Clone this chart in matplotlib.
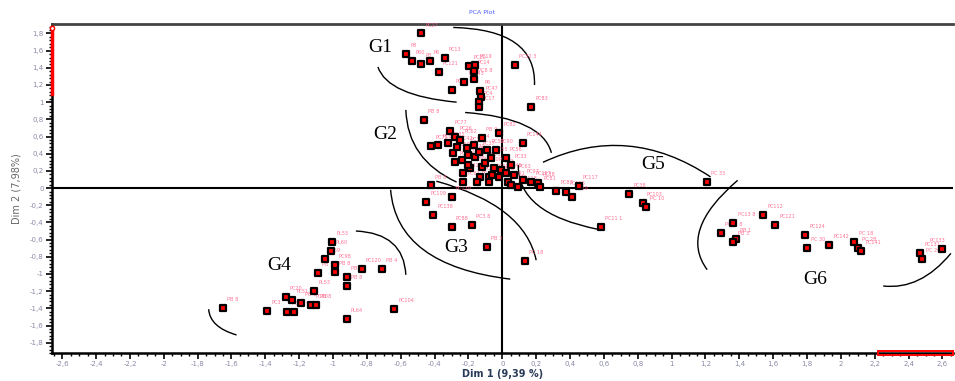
import numpy as np
import matplotlib
matplotlib.use("Agg")
import matplotlib.pyplot as plt
from matplotlib.ticker import MultipleLocator, FuncFormatter
from matplotlib.patches import Rectangle, PathPatch
from matplotlib.path import Path

g1_x = [-0.48, -0.57, -0.535, -0.48, -0.43, -0.34, -0.376, -0.194, -0.159, -0.17,
        -0.17, -0.224, -0.30, -0.13, -0.124, -0.135, -0.14, 0.076, 0.17]
g1_y = [1.80, 1.56, 1.48, 1.45, 1.48, 1.52, 1.35, 1.42, 1.43, 1.36,
        1.27, 1.24, 1.14, 1.13, 1.06, 1.00, 0.94, 1.43, 0.94]
g1_lab = ["PC27", "P8", "P60", "P8", "P6", "PC13", "PC121", "PC10", "PC19", "PC14",
          "PC8 8", "PC143", "PC11", "P6", "PC47", "PC4", "PC17", "PC32 3", "PC83"]

g2_x = [-0.465, -0.42, -0.38, -0.31, -0.28, -0.12, -0.02, 0.12, -0.29, -0.28,
        -0.235, -0.19, -0.16, -0.12, -0.13, -0.15, -0.08, -0.08, -0.01, -0.02,
        0.02, 0.035, 0.05, 0.09, 0.12, 0.17, 0.21, -0.23, -0.25, -0.21,
        -0.17, -0.20, -0.24, -0.09, -0.065, -0.035, 0.02, -0.105, -0.05, -0.20,
        -0.32, -0.27, -0.14, 0.05, -0.06, 0.07]
g2_y = [0.79, 0.49, 0.50, 0.66, 0.59, 0.58, 0.64, 0.53, 0.41, 0.30,
        0.17, 0.23, 0.36, 0.24, 0.13, 0.07, 0.13, 0.07, 0.21, 0.13,
        0.17, 0.07, 0.03, 0.01, 0.09, 0.07, 0.06, 0.07, 0.56, 0.47,
        0.50, 0.38, 0.33, 0.44, 0.35, 0.44, 0.35, 0.29, 0.23, 0.27,
        0.53, 0.48, 0.42, 0.27, 0.15, 0.15]
g2_lab = ["PB 8", "PC72", "PC68", "PC77", "PC26", "PB 9", "PC82", "PC144", "PC50", "PC99",
          "PC31", "PC64", "PB 5", "PC40", "PC29", "PC36", "PC41", "PC58", "PC2", "PB 8",
          "PC45", "PC91", "PC81", "PC118", "PC97", "PC117", "PC38", "PC61", "PC62", "PC30",
          "PC44", "PC70", "PC24", "PC52", "PC55", "PC90", "PC56", "PC71", "PC73", "PC34",
          "PC35", "PC42", "PC37", "PC33", "PC59", "PC63"]

g3_x = [-0.42, -0.30, -0.45, -0.41, -0.30, -0.18, -0.09, 0.135]
g3_y = [0.03, -0.10, -0.16, -0.31, -0.45, -0.43, -0.69, -0.85]
g3_lab = ["PB 8", "PC139", "PC109", "PC138", "PC88", "PC3 8", "PB 3", "PC 18"]

g4_x = [-1.006, -1.01, -1.05, -0.99, -0.99, -1.09, -0.92, -0.92, -0.83, -0.71,
        -1.11, -1.28, -1.24, -1.19, -1.13, -1.10, -1.27, -1.23, -1.39, -1.65,
        -0.64, -0.92]
g4_y = [-0.63, -0.73, -0.83, -0.90, -0.98, -0.99, -1.03, -1.14, -0.94, -0.94,
        -1.20, -1.27, -1.30, -1.34, -1.36, -1.36, -1.44, -1.44, -1.43, -1.40,
        -1.41, -1.52]
g4_lab = ["PL53", "PL60", "PL59", "PC98", "PB 8", "PB 7", "PB 1", "PB 8", "PC120", "PB 4",
          "PL53", "PC20", "PL51", "PB 1", "PC60", "PB 8", "PB 4", "PB 9", "PC3", "PB 8",
          "PC104", "PL64"]

g5_x = [0.22, 0.32, 0.375, 0.41, 0.45, 0.75, 0.83, 0.85, 0.58, 1.21]
g5_y = [0.01, -0.035, -0.05, -0.10, 0.02, -0.07, -0.17, -0.22, -0.45, 0.07]
g5_lab = ["PC81", "PC87", "PC118", "PC89", "PC117", "PC38", "PC103", "PC 10", "PC11 1", "PC 33"]

g6_x = [1.365, 1.29, 1.38, 1.365, 1.54, 1.61, 1.79, 1.80, 1.93, 2.08,
        2.10, 2.12, 2.47, 2.48, 2.60]
g6_y = [-0.41, -0.52, -0.59, -0.63, -0.31, -0.43, -0.55, -0.70, -0.66, -0.63,
        -0.70, -0.73, -0.76, -0.83, -0.71]
g6_lab = ["PC13 8", "PC12 8", "PB 1", "PB 3", "PC112", "PC121", "PC124", "PC 30", "PC142", "PC 18",
          "PC 28", "PC141", "PC131", "PC 26", "PC133"]

# group outlines: (start, through, end) of each hand-drawn arc, data units
arcs = [
    [(-0.735, 1.41), (-0.59, 1.14), (-0.27, 1.00)],
    [(-0.29, 1.87), (0.076, 1.69), (0.19, 1.20)],
    [(-0.57, 0.91), (-0.49, 0.41), (-0.27, 0.07)],
    [(-0.22, 0.88), (0.135, 0.73), (0.29, 0.41)],
    [(0.24, 0.30), (0.74, 0.49), (1.23, 0.13)],
    [(0.094, 0.27), (0.21, -0.20), (0.565, -0.48)],
    [(-0.66, -0.02), (-0.465, -0.72), (0.047, -1.06)],
    [(-0.39, 0.08), (0.018, -0.29), (0.20, -0.84)],
    [(-1.735, -1.41), (-1.69, -1.59), (-1.57, -1.71)],
    [(-0.865, -0.50), (-0.65, -0.64), (-0.57, -1.01)],
    [(1.39, 0.09), (1.17, -0.465), (1.21, -0.95)],
    [(2.25, -1.14), (2.46, -1.07), (2.65, -0.76)],
]
group_names = ["G1", "G2", "G3", "G4", "G5", "G6"]
group_pos = [(-0.72, 1.64), (-0.69, 0.62), (-0.27, -0.69), (-1.32, -0.90), (0.89, 0.27), (1.85, -1.07)]

XLIM = (-2.66, 2.66)
YLIM = (-1.92, 1.91)


def comma(v, pos):
    s = "%g" % round(v, 2)
    if s == "-0":
        s = "0"
    return s.replace(".", ",")


fig = plt.figure(figsize=(9.55, 3.81), dpi=100)
ax = fig.add_axes([0.0545, 0.0735, 0.943, 0.8635])
ax.set_xlim(*XLIM)
ax.set_ylim(*YLIM)

ax.axhline(0, color="black", lw=1.5, zorder=1)
ax.axvline(0, color="black", lw=1.5, zorder=1)

for arc in arcs:
    p0, pm, p2 = [np.array(p) for p in arc]
    c = 2 * pm - 0.5 * (p0 + p2)
    path = Path([p0, c, p2], [Path.MOVETO, Path.CURVE3, Path.CURVE3])
    ax.add_patch(PathPatch(path, fc="none", ec="black", lw=1.0, zorder=2))

xs = g1_x + g2_x + g3_x + g4_x + g5_x + g6_x
ys = g1_y + g2_y + g3_y + g4_y + g5_y + g6_y
labs = g1_lab + g2_lab + g3_lab + g4_lab + g5_lab + g6_lab
for x, y, t in zip(xs, ys, labs):
    right = x > 2.5
    ax.annotate(t, (x, y), xytext=(2 if right else 3, 5), textcoords="offset points",
                fontsize=3.6, color="#ff5c85", alpha=0.85, zorder=3,
                ha="right" if right else "left")
ax.scatter(xs, ys, marker="s", s=25, c="#ff0000", edgecolors="black", linewidths=1.6, zorder=4)

for name, (gx, gy) in zip(group_names, group_pos):
    ax.text(gx, gy, name, fontsize=14, family="Liberation Serif", ha="center", va="center", zorder=5)

# axes styling
ax.xaxis.set_major_locator(MultipleLocator(0.2))
ax.xaxis.set_minor_locator(MultipleLocator(0.05))
ax.yaxis.set_major_locator(MultipleLocator(0.2))
ax.yaxis.set_minor_locator(MultipleLocator(0.04))
ax.xaxis.set_major_formatter(FuncFormatter(comma))
ax.yaxis.set_major_formatter(FuncFormatter(comma))
ax.tick_params(which="major", length=4, width=1.2, labelsize=5, labelcolor="#8a8aa8", pad=2)
ax.tick_params(which="minor", length=2, width=1.0)
for s in ("left", "bottom"):
    ax.spines[s].set_linewidth(1.8)
ax.spines["top"].set_linewidth(2.0)
ax.spines["top"].set_color("#444444")
ax.spines["right"].set_visible(False)

# scroll bars
ax.plot([XLIM[0], XLIM[0]], [1.1, YLIM[1] - 0.04], color="red", lw=2.5, clip_on=False, zorder=6)
ax.plot([XLIM[0]], [YLIM[1] - 0.05], marker="o", ms=3, mfc="white", mec="red", clip_on=False, zorder=7)
ax.add_patch(Rectangle((2.22, YLIM[0] - 0.025), 0.44, 0.05, fill=False, ec="red", lw=1.4,
                       clip_on=False, zorder=6))

ax.set_xlabel("Dim 1 (9,39 %)", fontsize=7, fontweight="bold", color="#2a3a5a", labelpad=1)
ax.set_ylabel("Dim 2 (7,98%)", fontsize=7, color="#666666", labelpad=6)
fig.text(482 / 955, 1 - 12 / 381, "PCA Plot", fontsize=4.5, color="#4a5cff", ha="center", va="center")

fig.savefig("out.png", dpi=100)
